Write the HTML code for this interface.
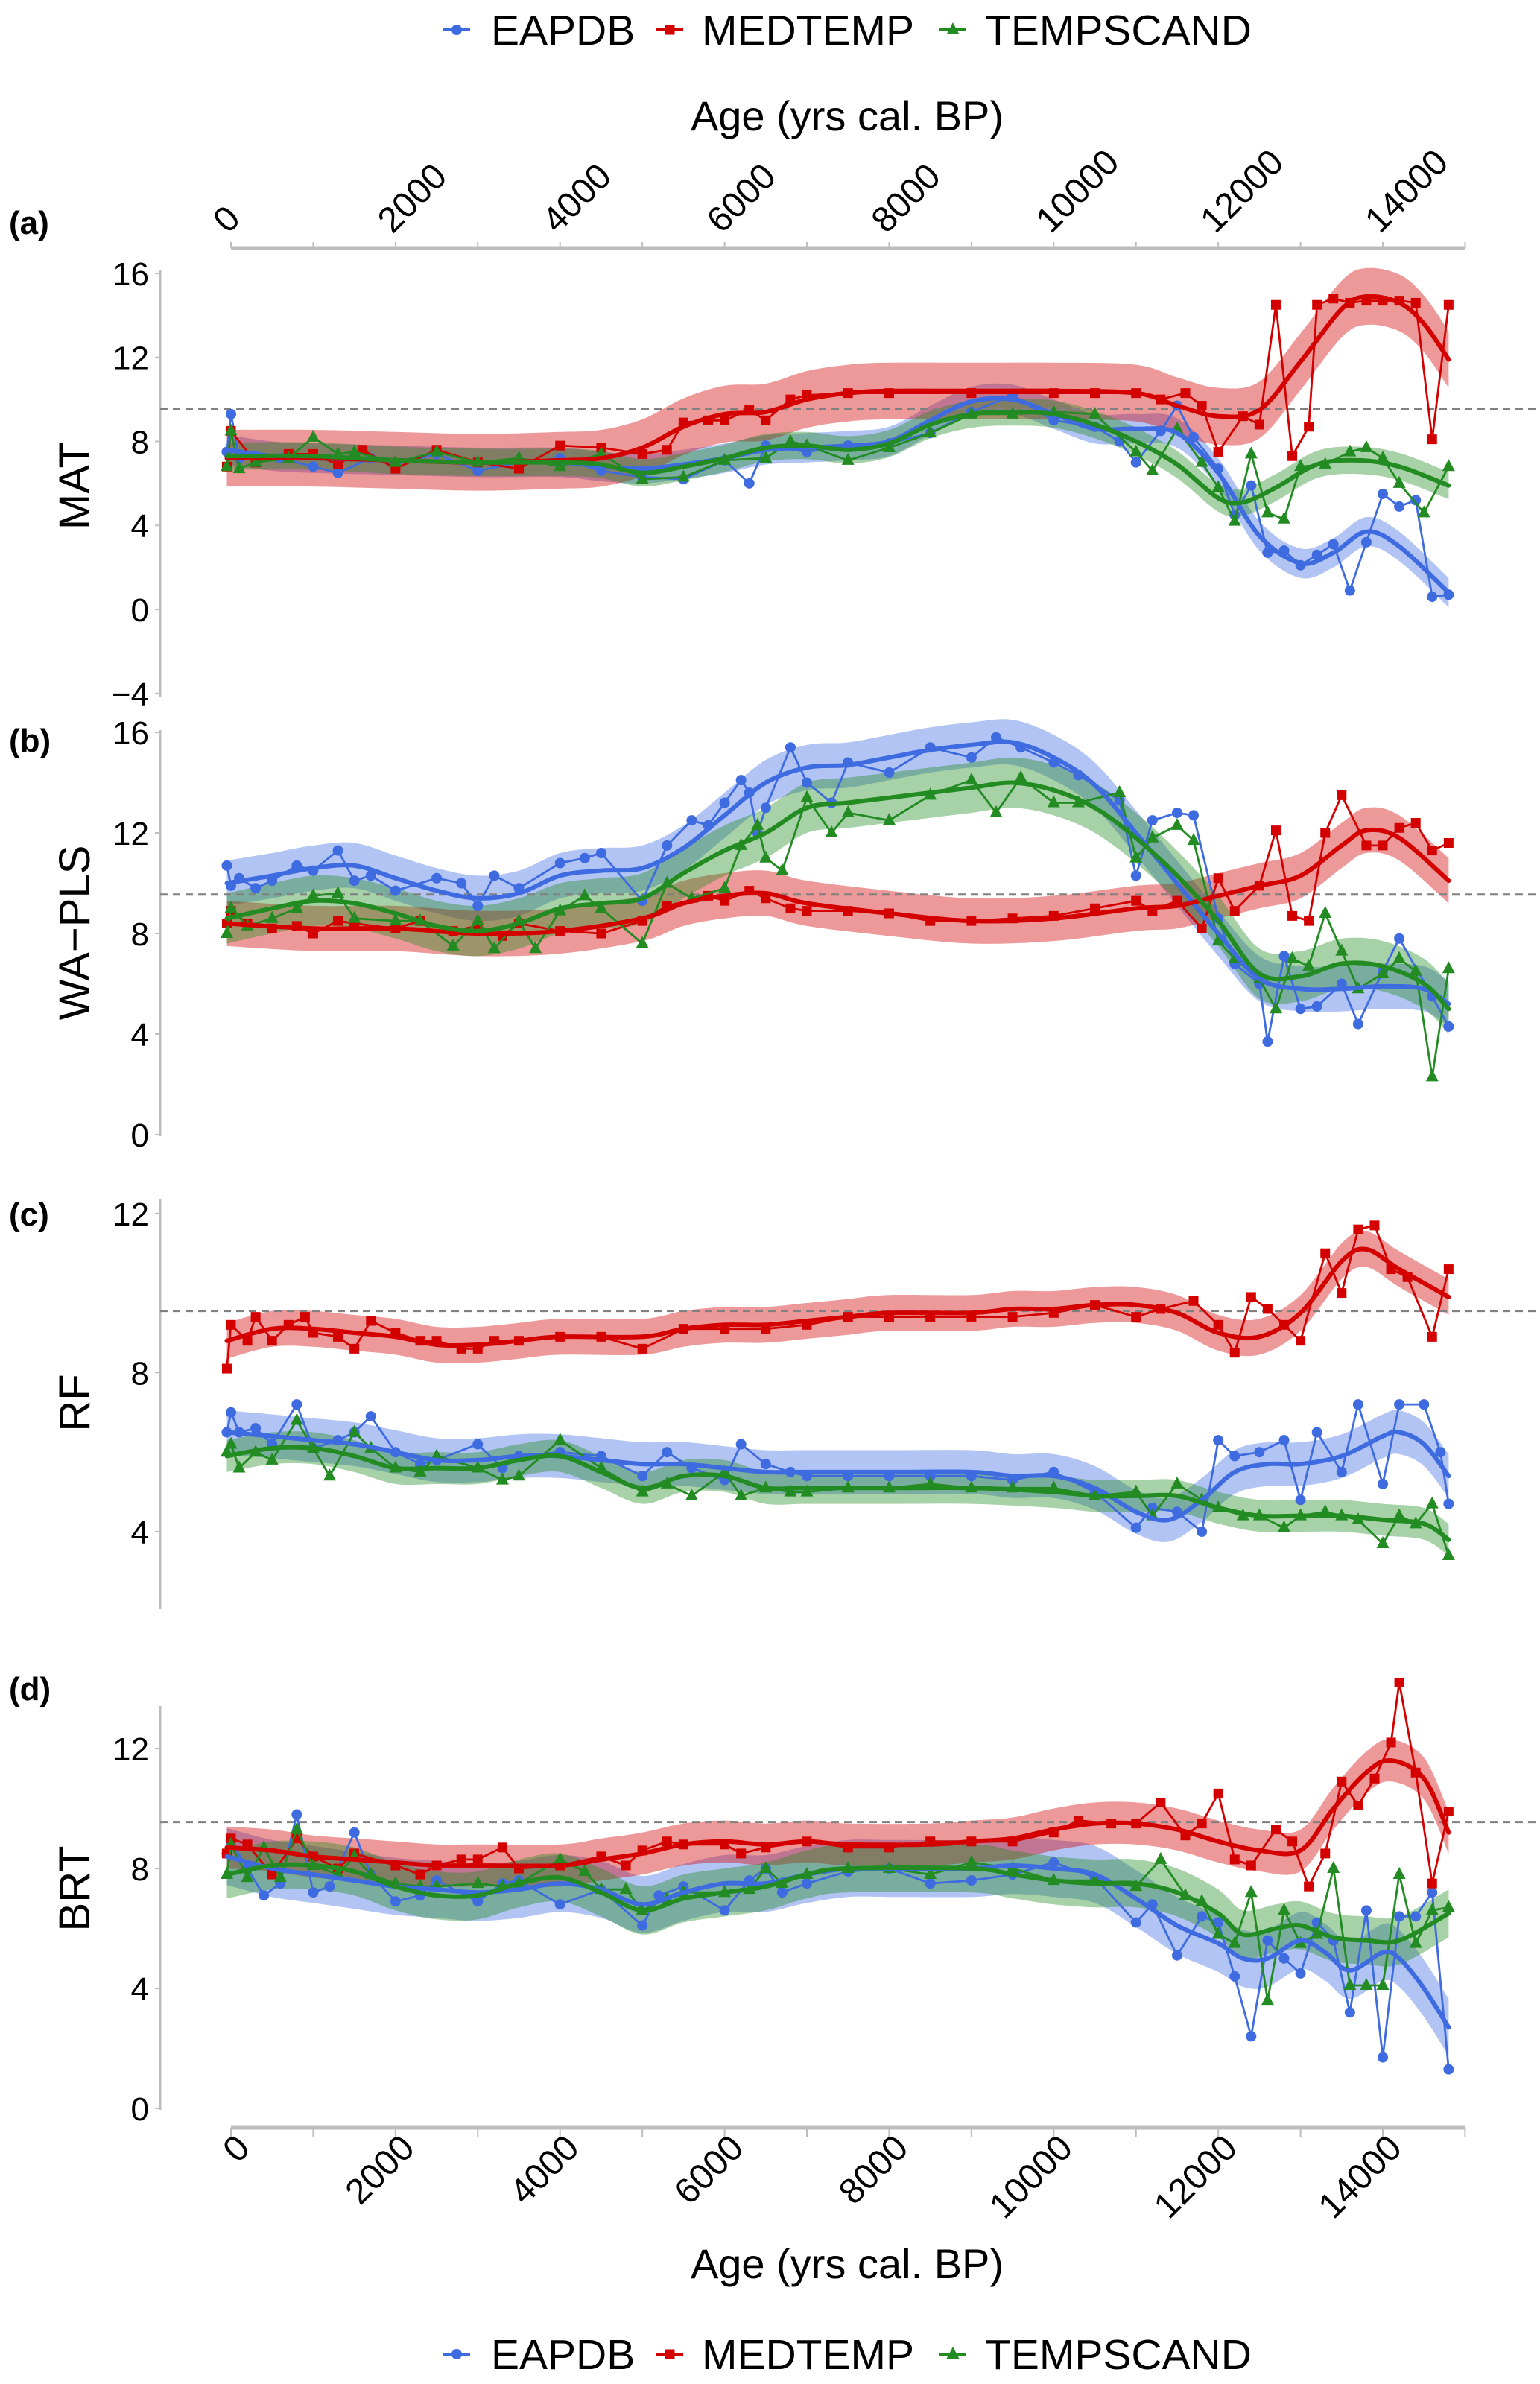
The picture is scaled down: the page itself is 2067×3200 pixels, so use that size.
<!DOCTYPE html>
<html><head><meta charset="utf-8">
<style>
html,body{margin:0;padding:0;background:#fff;}
svg{display:block;font-family:"Liberation Sans",Arial,sans-serif;}
</style></head>
<body>
<svg id="chart" width="2067" height="3200" viewBox="0 0 2067 3200" xmlns="http://www.w3.org/2000/svg">
<g id="static"></g>
</svg>
<script>
// ---------- DATA ----------
const seriesNames = ["EAPDB","MEDTEMP","TEMPSCAND"];
const xTicks = [0,2000,4000,6000,8000,10000,12000,14000];

// Panel a: MAT
const aEapPts=[[-50,7.5],[0,9.3],[100,7.2],[300,7.3],[600,7.2],[1000,6.8],[1300,6.5],[1700,7.2],[2000,6.9],[2500,7.4],[3000,6.6],[3500,7.0],[4000,7.2],[4500,6.6],[5000,6.3],[5500,6.2],[6000,7.1],[6300,6.0],[6500,7.8],[7000,7.5],[7500,7.8],[8000,7.9],[8500,8.4],[9000,9.4],[9500,10.2],[10000,9.0],[10500,8.7],[10800,8.0],[11000,7.0],[11300,8.5],[11500,9.7],[11700,8.2],[12000,6.7],[12200,4.5],[12400,5.9],[12600,2.7],[12800,2.8],[13000,2.1],[13200,2.6],[13400,3.1],[13600,0.9],[13800,3.2],[14000,5.5],[14200,4.9],[14400,5.2],[14600,0.6],[14800,0.7]];
const aEapFit=[[-50,7.6],[500,7.3],[1000,7.2],[2000,7.1],[3000,7.0],[4000,7.0],[4500,6.8],[5000,6.7],[5500,6.9],[6000,7.2],[6500,7.6],[7000,7.7],[7500,7.8],[8000,8.0],[8500,9.0],[9000,9.9],[9500,10.0],[10000,9.3],[10500,8.6],[11000,8.6],[11500,8.4],[12000,6.5],[12500,3.5],[13000,2.2],[13400,2.7],[13800,3.7],[14200,3.0],[14800,0.8]];
const aEapBand=0.7;
const aMedPts=[[-50,6.8],[0,8.5],[300,7.0],[700,7.4],[1000,7.4],[1300,6.9],[1600,7.6],[2000,6.7],[2500,7.6],[3000,7.0],[3500,6.7],[4000,7.8],[4500,7.7],[5000,7.4],[5300,7.6],[5500,8.9],[5800,9.0],[6000,9.0],[6300,9.5],[6500,9.0],[6800,10.0],[7000,10.2],[7500,10.3],[8000,10.3],[9000,10.3],[10000,10.3],[10500,10.3],[11000,10.3],[11300,10.0],[11600,10.3],[11800,9.7],[12000,7.5],[12300,9.2],[12500,8.8],[12700,14.5],[12900,7.3],[13100,8.7],[13200,14.5],[13400,14.8],[13600,14.6],[13800,14.7],[14000,14.7],[14200,14.7],[14400,14.6],[14600,8.1],[14800,14.5]];
const aMedFit=[[-50,7.2],[1000,7.2],[2000,7.1],[3000,7.0],[4000,7.1],[4500,7.2],[5000,7.7],[5500,8.7],[6000,9.3],[6500,9.4],[7000,10.0],[7500,10.3],[8000,10.4],[9000,10.4],[10000,10.4],[11000,10.3],[11500,9.7],[12000,9.2],[12500,9.5],[13000,11.8],[13500,14.3],[13800,14.9],[14200,14.6],[14500,13.6],[14800,11.9]];
const aMedBand=1.35;
const aTscPts=[[-50,6.8],[0,8.5],[100,6.7],[300,7.0],[700,7.2],[1000,8.2],[1300,7.4],[1500,7.5],[2000,7.0],[2500,7.5],[3000,7.0],[3500,7.2],[4000,6.8],[4500,7.4],[5000,6.2],[5500,6.3],[6000,7.1],[6500,7.2],[6800,8.0],[7000,7.8],[7500,7.1],[8000,7.7],[8500,8.4],[9000,9.3],[9500,9.3],[10000,9.4],[10500,9.3],[11000,7.5],[11200,6.6],[11500,8.6],[11800,7.0],[12000,5.8],[12200,4.2],[12400,7.4],[12600,4.6],[12800,4.3],[13000,6.8],[13300,6.9],[13600,7.5],[13800,7.7],[14000,7.2],[14200,6.0],[14500,4.6],[14800,6.8]];
const aTscFit=[[-50,7.3],[1000,7.3],[2000,7.1],[3000,7.0],[4000,7.0],[4500,6.9],[5000,6.5],[5500,6.8],[6000,7.2],[6500,7.7],[7000,7.8],[7500,7.6],[8000,7.9],[8500,8.8],[9000,9.3],[9500,9.4],[10000,9.3],[10500,8.8],[11000,8.0],[11500,6.9],[12000,5.3],[12300,5.1],[12700,5.8],[13200,6.9],[13700,7.1],[14200,6.8],[14800,5.9]];
const aTscBand=0.65;

// Panel b: WA-PLS
const bEapPts=[[-50,10.7],[0,9.9],[100,10.2],[300,9.8],[500,10.1],[800,10.7],[1000,10.5],[1300,11.3],[1500,10.1],[1700,10.3],[2000,9.7],[2500,10.2],[2800,10.0],[3000,9.1],[3200,10.3],[3500,9.8],[4000,10.8],[4300,11.0],[4500,11.2],[5000,9.3],[5300,11.5],[5600,12.5],[5800,12.3],[6000,13.2],[6200,14.1],[6300,13.6],[6400,12.0],[6500,13.0],[6800,15.4],[7000,14.0],[7300,13.2],[7500,14.8],[8000,14.4],[8500,15.4],[9000,15.0],[9300,15.8],[9600,15.4],[10000,14.8],[10300,14.3],[10800,13.3],[11000,10.3],[11200,12.5],[11500,12.8],[11700,12.7],[12000,8.6],[12200,6.8],[12500,6.0],[12600,3.7],[12800,7.1],[13000,5.0],[13200,5.1],[13500,6.0],[13700,4.4],[14000,6.5],[14200,7.8],[14600,5.5],[14800,4.3]];
const bEapFit=[[-50,10.0],[500,10.3],[1000,10.6],[1500,10.7],[2000,10.2],[2500,9.7],[3000,9.4],[3500,9.6],[4000,10.3],[4500,10.5],[5000,10.6],[5500,11.4],[6000,12.7],[6500,14.0],[7000,14.6],[7500,14.7],[8000,15.0],[8500,15.3],[9000,15.5],[9500,15.6],[10000,15.0],[10500,13.9],[11000,12.0],[11500,10.0],[12000,8.0],[12500,6.2],[13000,5.8],[13500,5.8],[14000,5.9],[14500,5.8],[14800,5.2]];
const bEapBand=0.9;
const bMedPts=[[-50,8.4],[0,8.9],[200,8.4],[500,8.2],[800,8.3],[1000,8.0],[1300,8.5],[1500,8.4],[2000,8.2],[2300,8.5],[2700,8.1],[3000,8.3],[3300,7.9],[3500,8.4],[4000,8.1],[4500,8.0],[5000,8.5],[5300,9.1],[5800,9.5],[6000,9.3],[6300,9.7],[6500,9.4],[6800,9.0],[7000,8.9],[7500,8.9],[8000,8.8],[8500,8.5],[9000,8.5],[9500,8.6],[10000,8.7],[10500,9.0],[11000,9.3],[11200,8.9],[11500,9.3],[11800,8.2],[12000,10.2],[12200,8.9],[12500,9.9],[12700,12.1],[12900,8.7],[13100,8.5],[13300,12.0],[13500,13.5],[13800,11.5],[14000,11.5],[14200,12.2],[14400,12.4],[14600,11.3],[14800,11.6]];
const bMedFit=[[-50,8.4],[1000,8.2],[2000,8.2],[3000,8.0],[4000,8.1],[5000,8.6],[5500,9.2],[6000,9.5],[6500,9.6],[7000,9.2],[8000,8.8],[9000,8.5],[10000,8.6],[11000,9.0],[11500,9.1],[12000,9.5],[12500,9.9],[13000,10.3],[13500,11.5],[13800,12.1],[14200,11.8],[14800,10.1]];
const bMedBand=0.9;
const bTscPts=[[-50,8.0],[0,9.0],[200,8.3],[500,8.6],[800,9.0],[1000,9.5],[1300,9.6],[1500,8.6],[2000,8.5],[2300,8.5],[2700,7.5],[3000,8.5],[3200,7.4],[3500,8.5],[3700,7.4],[4000,8.9],[4300,9.5],[4500,9.0],[5000,7.6],[5300,10.0],[5600,9.4],[6000,9.8],[6200,11.5],[6400,12.3],[6500,11.0],[6700,10.5],[7000,13.4],[7300,12.0],[7500,12.8],[8000,12.5],[8500,13.5],[9000,14.1],[9300,12.8],[9600,14.2],[10000,13.2],[10300,13.2],[10800,13.6],[11000,11.0],[11200,11.8],[11500,12.3],[11700,11.7],[12000,7.7],[12200,7.0],[12500,6.2],[12700,5.0],[12900,7.0],[13100,6.7],[13300,8.8],[13500,7.3],[13700,5.8],[14000,6.4],[14200,7.0],[14400,6.5],[14600,2.3],[14800,6.6]];
const bTscFit=[[-50,8.6],[500,9.0],[1000,9.3],[1500,9.2],[2000,8.8],[2500,8.3],[3000,8.1],[3500,8.4],[4000,9.0],[4500,9.2],[5000,9.4],[5500,10.4],[6000,11.3],[6500,12.0],[7000,13.0],[7500,13.2],[8000,13.4],[8500,13.6],[9000,13.8],[9500,14.0],[10000,13.7],[10500,13.0],[11000,11.8],[11500,10.3],[12000,8.5],[12500,6.4],[13000,6.3],[13500,6.8],[14000,6.7],[14500,6.0],[14800,5.0]];
const bTscBand=1.0;

// Panel c: RF
const cEapPts=[[-50,6.5],[0,7.0],[100,6.5],[300,6.6],[500,6.2],[800,7.2],[1000,6.1],[1300,6.3],[1500,6.5],[1700,6.9],[2000,6.0],[2300,5.7],[2500,5.8],[3000,6.2],[3300,5.6],[3500,5.9],[4000,6.0],[4500,5.9],[5000,5.4],[5300,6.0],[5600,5.6],[6000,5.3],[6200,6.2],[6500,5.7],[6800,5.5],[7000,5.4],[7500,5.4],[8000,5.4],[8500,5.4],[9000,5.4],[9500,5.3],[10000,5.5],[10500,5.0],[11000,4.1],[11200,4.6],[11500,4.5],[11800,4.0],[12000,6.3],[12200,5.9],[12500,6.0],[12800,6.3],[13000,4.8],[13200,6.5],[13500,5.5],[13700,7.2],[14000,5.2],[14200,7.2],[14500,7.2],[14700,6.0],[14800,4.7]];
const cEapFit=[[-50,6.5],[500,6.4],[1000,6.3],[1500,6.2],[2000,6.0],[2500,5.8],[3000,5.8],[3500,5.9],[4000,5.9],[4500,5.8],[5000,5.7],[5500,5.7],[6000,5.6],[6500,5.5],[7000,5.5],[8000,5.5],[9000,5.5],[9500,5.4],[10000,5.4],[10500,5.1],[11000,4.5],[11400,4.3],[11800,4.8],[12200,5.5],[12600,5.7],[13000,5.7],[13500,5.9],[14000,6.4],[14200,6.5],[14500,6.2],[14800,5.4]];
const cEapBand=0.55;
const cMedPts=[[-50,8.1],[0,9.2],[200,8.8],[300,9.4],[500,8.8],[700,9.2],[900,9.4],[1000,9.0],[1300,8.9],[1500,8.6],[1700,9.3],[2000,9.0],[2300,8.8],[2500,8.8],[2800,8.6],[3000,8.6],[3200,8.8],[3500,8.8],[4000,8.9],[4500,8.9],[5000,8.6],[5500,9.1],[6000,9.1],[6500,9.1],[7000,9.2],[7500,9.4],[8000,9.4],[8500,9.4],[9000,9.4],[9500,9.4],[10000,9.5],[10500,9.7],[11000,9.4],[11300,9.6],[11700,9.8],[12000,9.2],[12200,8.5],[12400,9.9],[12600,9.6],[12800,9.2],[13000,8.8],[13300,11.0],[13500,10.0],[13700,11.6],[13900,11.7],[14100,10.6],[14300,10.4],[14600,8.9],[14800,10.6]];
const cMedFit=[[-50,8.8],[500,9.1],[1000,9.1],[1500,9.0],[2000,8.9],[2500,8.7],[3000,8.7],[3500,8.8],[4000,8.9],[5000,8.9],[5500,9.1],[6000,9.2],[6500,9.2],[7000,9.3],[7500,9.4],[8000,9.5],[9000,9.5],[9500,9.6],[10000,9.6],[10500,9.7],[11000,9.7],[11500,9.5],[12000,9.0],[12500,8.9],[13000,9.5],[13500,10.8],[13800,11.1],[14200,10.6],[14800,9.9]];
const cMedBand=0.45;
const cTscPts=[[-50,6.0],[0,6.2],[100,5.6],[300,6.0],[500,5.8],[800,6.8],[1000,6.1],[1200,5.4],[1500,6.5],[1700,6.1],[2000,5.6],[2300,5.5],[2500,5.9],[3000,5.6],[3300,5.3],[3500,5.4],[4000,6.3],[4500,5.6],[5000,5.0],[5300,5.2],[5600,4.9],[6000,5.5],[6200,4.9],[6500,5.1],[6800,5.0],[7000,5.0],[7500,5.1],[8000,5.1],[8500,5.2],[9000,5.1],[9500,5.1],[10000,5.1],[10500,4.9],[11000,5.0],[11200,4.4],[11500,5.2],[11800,4.8],[12000,4.6],[12300,4.4],[12500,4.4],[12800,4.1],[13000,4.4],[13300,4.5],[13500,4.4],[13700,4.3],[14000,3.7],[14200,4.4],[14400,4.2],[14600,4.7],[14800,3.4]];
const cTscFit=[[-50,5.9],[500,6.1],[1000,6.1],[1500,5.9],[2000,5.6],[2500,5.6],[3000,5.6],[3500,5.8],[4000,5.9],[4500,5.5],[5000,5.1],[5500,5.4],[6000,5.4],[6500,5.1],[7000,5.1],[8000,5.1],[9000,5.1],[10000,5.0],[10500,4.9],[11000,4.9],[11500,4.9],[12000,4.6],[12500,4.4],[13000,4.4],[13500,4.4],[14000,4.3],[14500,4.2],[14800,3.8]];
const cTscBand=0.4;

// Panel d: BRT
const dEapPts=[[-50,8.5],[0,8.9],[200,8.0],[400,7.1],[600,7.5],[800,9.8],[1000,7.2],[1200,7.4],[1500,9.2],[1700,7.8],[2000,6.9],[2300,7.1],[2500,7.6],[3000,6.9],[3300,7.5],[3500,7.6],[4000,6.8],[4500,7.3],[5000,6.1],[5200,7.1],[5500,7.4],[6000,6.6],[6300,7.6],[6500,8.0],[6700,7.2],[7000,7.5],[7500,7.9],[8000,8.0],[8500,7.5],[9000,7.6],[9500,7.8],[10000,8.2],[10500,7.7],[11000,6.2],[11200,6.8],[11500,5.1],[11800,6.4],[12000,6.2],[12200,4.4],[12400,2.4],[12600,5.6],[12800,5.0],[13000,4.5],[13200,6.2],[13400,5.6],[13600,3.2],[13800,6.6],[14000,1.7],[14200,6.4],[14400,6.4],[14600,7.2],[14800,1.3]];
const dEapFit=[[-50,8.4],[500,8.0],[1000,7.8],[1500,7.6],[2000,7.4],[2500,7.3],[3000,7.2],[3500,7.3],[4000,7.5],[4500,7.3],[5000,6.8],[5500,7.2],[6000,7.5],[6500,7.5],[7000,7.8],[7500,8.0],[8000,8.0],[9000,8.0],[9500,8.1],[10000,8.0],[10500,7.8],[11000,7.0],[11500,6.1],[12000,5.5],[12300,5.0],[12600,5.0],[13000,5.6],[13300,5.2],[13600,4.6],[14000,5.2],[14200,5.0],[14500,4.0],[14800,2.7]];
const dEapBand=0.95;
const dMedPts=[[-50,8.5],[0,9.0],[200,8.8],[500,7.8],[800,9.0],[1000,8.4],[1300,8.0],[1500,8.5],[2000,8.1],[2300,7.8],[2500,8.1],[2800,8.3],[3000,8.3],[3300,8.7],[3500,8.0],[4000,8.1],[4500,8.4],[4800,8.1],[5000,8.6],[5300,8.9],[5500,8.8],[6000,8.8],[6200,8.5],[6500,8.7],[7000,8.9],[7500,8.7],[8000,8.7],[8500,8.9],[9000,8.9],[9500,8.9],[10000,9.2],[10300,9.6],[10700,9.5],[11000,9.5],[11300,10.2],[11600,9.1],[11800,9.5],[12000,10.5],[12200,8.3],[12400,8.1],[12700,9.3],[12900,8.9],[13100,7.4],[13300,8.5],[13500,10.9],[13700,10.1],[13900,11.0],[14100,12.2],[14200,14.2],[14400,11.2],[14600,7.5],[14800,9.9]];
const dMedFit=[[-50,8.7],[500,8.6],[1000,8.4],[1500,8.3],[2000,8.2],[2500,8.1],[3000,8.1],[4000,8.1],[4500,8.3],[5000,8.5],[5500,8.8],[6000,8.9],[6500,8.8],[7000,8.9],[7500,8.8],[8500,8.8],[9000,8.9],[9500,9.0],[10000,9.3],[10500,9.5],[11000,9.5],[11500,9.3],[12000,8.9],[12500,8.6],[13000,8.6],[13400,10.0],[13800,11.2],[14100,11.6],[14500,11.0],[14800,9.2]];
const dMedBand=0.7;
const dTscPts=[[-50,7.8],[0,8.8],[200,7.7],[400,8.7],[600,7.7],[800,9.3],[1000,8.1],[1300,7.8],[1500,8.4],[1700,7.8],[2000,7.5],[2300,7.4],[2500,7.4],[3000,7.5],[3300,7.4],[3500,7.5],[4000,8.3],[4300,7.9],[4500,7.3],[4800,7.3],[5000,6.6],[5300,7.0],[5500,7.2],[6000,7.2],[6300,7.3],[6500,8.0],[6700,7.5],[7000,7.8],[7500,8.0],[8000,8.0],[8500,7.8],[9000,8.2],[9500,8.0],[10000,7.6],[10500,7.6],[11000,7.4],[11300,8.3],[11600,7.1],[11800,6.9],[12000,5.8],[12200,5.5],[12400,7.2],[12600,3.6],[12800,6.6],[13000,5.5],[13200,5.8],[13400,8.0],[13600,4.1],[13800,4.1],[14000,4.1],[14200,7.8],[14400,5.5],[14600,6.6],[14800,6.7]];
const dTscFit=[[-50,7.8],[500,8.1],[1000,8.1],[1500,7.9],[2000,7.4],[2500,7.1],[3000,7.1],[3500,7.5],[4000,7.7],[4500,7.2],[5000,6.6],[5500,7.0],[6000,7.2],[6500,7.4],[7000,7.8],[7500,8.0],[9000,8.0],[9500,7.8],[10000,7.6],[10500,7.5],[11000,7.5],[11500,7.2],[12000,6.5],[12300,5.8],[12700,6.0],[13000,6.1],[13400,5.7],[13800,5.6],[14200,5.6],[14800,6.5]];
const dTscBand=0.8;

const refValue = 9.55;
const aTicks=[16,12,8,4,0,-4], bTicks=[16,12,8,4,0], cTicks=[12,8,4], dTicks=[12,8,4,0];

// ---------- RENDER ----------
const NS="http://www.w3.org/2000/svg";
const svg=document.getElementById('chart');
const colors={EAPDB:"#3e6be0",MEDTEMP:"#d40000",TEMPSCAND:"#228b22"};
const X0=310, XK=0.11043;
function xs(a){return X0+a*XK;}
function mk(tag,attrs,parent){const e=document.createElementNS(NS,tag);for(const k in attrs)e.setAttribute(k,attrs[k]);(parent||svg).appendChild(e);return e;}
function cr(pts){
  let d="M"+pts[0][0].toFixed(1)+","+pts[0][1].toFixed(1);
  for(let i=0;i<pts.length-1;i++){
    const p0=pts[Math.max(0,i-1)],p1=pts[i],p2=pts[i+1],p3=pts[Math.min(pts.length-1,i+2)];
    const c1=[p1[0]+(p2[0]-p0[0])/6,p1[1]+(p2[1]-p0[1])/6];
    const c2=[p2[0]-(p3[0]-p1[0])/6,p2[1]-(p3[1]-p1[1])/6];
    d+="C"+c1[0].toFixed(1)+","+c1[1].toFixed(1)+" "+c2[0].toFixed(1)+","+c2[1].toFixed(1)+" "+p2[0].toFixed(1)+","+p2[1].toFixed(1);
  }
  return d;
}
function crBody(pts){return cr(pts).replace(/^M/,"L");}

const panels=[
 {id:"a",label:"(a)",title:"MAT",y0:818,vk:28.19,v0:0,ticks:aTicks,axTop:362,axBot:935,labelY:298,titleY:652,
  series:[["EAPDB",aEapPts,aEapFit,aEapBand],["MEDTEMP",aMedPts,aMedFit,aMedBand],["TEMPSCAND",aTscPts,aTscFit,aTscBand]]},
 {id:"b",label:"(b)",title:"WA\u2212PLS",y0:1523,vk:33.75,v0:0,ticks:bTicks,axTop:980,axBot:1525,labelY:993,titleY:1252,
  series:[["EAPDB",bEapPts,bEapFit,bEapBand],["MEDTEMP",bMedPts,bMedFit,bMedBand],["TEMPSCAND",bTscPts,bTscFit,bTscBand]]},
 {id:"c",label:"(c)",title:"RF",y0:2056,vk:53.4,v0:4,ticks:cTicks,axTop:1609,axBot:2160,labelY:1629,titleY:1883,
  series:[["EAPDB",cEapPts,cEapFit,cEapBand],["MEDTEMP",cMedPts,cMedFit,cMedBand],["TEMPSCAND",cTscPts,cTscFit,cTscBand]]},
 {id:"d",label:"(d)",title:"BRT",y0:2830,vk:40.25,v0:0,ticks:dTicks,axTop:2290,axBot:2832,labelY:2266,titleY:2535,
  series:[["EAPDB",dEapPts,dEapFit,dEapBand],["MEDTEMP",dMedPts,dMedFit,dMedBand],["TEMPSCAND",dTscPts,dTscFit,dTscBand]]}
];

function marker(name,x,y,g){
  const c=colors[name];
  let e;
  if(name==="EAPDB") e=mk("circle",{cx:x,cy:y,r:7,fill:c},g);
  else if(name==="MEDTEMP") e=mk("rect",{x:x-6.5,y:y-6.5,width:13,height:13,fill:c},g);
  else e=mk("polygon",{points:`${x},${y-10} ${x-8.5},${y+6} ${x+8.5},${y+6}`,fill:c},g);
  return e;
}

panels.forEach(p=>{
  const ys=v=>p.y0-(v-p.v0)*p.vk;
  const g=mk("g",{});
  
  
  const ax=mk("line",{x1:215,y1:p.axTop,x2:215,y2:p.axBot,stroke:"#bdbdbd","stroke-width":3},g);
  
  
  p.ticks.forEach(t=>{
    mk("line",{x1:208,y1:ys(t),x2:215,y2:ys(t),stroke:"#bdbdbd","stroke-width":2},g);
    const tl=mk("text",{x:200,y:ys(t)+16,"text-anchor":"end","font-size":44,fill:"#000"},g);
    tl.textContent=t<0?"\u2212"+Math.abs(t):String(t);
    
    
  });
  const yt=mk("text",{x:0,y:0,"text-anchor":"middle","font-size":58,fill:"#000",transform:`translate(120,${p.titleY}) rotate(-90)`},g);
  yt.textContent=p.title;
  
  
  const pl=mk("text",{x:12,y:p.labelY+16,"font-size":44,"font-weight":"bold",fill:"#000"},g);
  pl.textContent=p.label;
  
  
  p.series.forEach(([name,pts,fit,band])=>{
    const up=fit.map(q=>[xs(q[0]),ys(q[1]+band)]);
    const lo=fit.map(q=>[xs(q[0]),ys(q[1]-band)]).reverse();
    const b=mk("path",{d:cr(up)+crBody(lo)+"Z",fill:colors[name],"fill-opacity":0.4,stroke:"none"},g);
    
    
  });
  const rl=mk("line",{x1:215,y1:ys(refValue),x2:2067,y2:ys(refValue),stroke:"#808080","stroke-width":3,"stroke-dasharray":"10 7"},g);
  
  
  p.series.forEach(([name,pts])=>{
    const pp=pts.map(q=>[xs(q[0]),ys(q[1])]);
    const l=mk("polyline",{points:pp.map(q=>q[0].toFixed(1)+","+q[1].toFixed(1)).join(" "),fill:"none",stroke:colors[name],"stroke-width":2.8},g);
    
    
    pp.forEach(q=>{
      const m=marker(name,q[0],q[1],g);
      
      
    });
  });
  p.series.forEach(([name,pts,fit])=>{
    const s=mk("path",{d:cr(fit.map(q=>[xs(q[0]),ys(q[1])])),fill:"none",stroke:colors[name],"stroke-width":6,"stroke-linecap":"round"},g);
    
    
  });
});

function xAxis(y,top){
  const g=mk("g",{});
  
  
  mk("line",{x1:xs(0),y1:y,x2:xs(15000),y2:y,stroke:"#bdbdbd","stroke-width":5},g);
  for(let a=0;a<=15000;a+=1000){
    mk("line",{x1:xs(a),y1:y,x2:xs(a),y2:top?y-8:y+12,stroke:"#bdbdbd","stroke-width":2},g);
  }
  xTicks.forEach(t=>{
    let tl;
    if(top) tl=mk("text",{x:0,y:0,"font-size":48,fill:"#000",transform:`translate(${xs(t)-4},${y-18}) rotate(-45)`},g);
    else tl=mk("text",{x:0,y:0,"font-size":48,"text-anchor":"end",fill:"#000",transform:`translate(${xs(t)+28},${y+30}) rotate(-45)`},g);
    tl.textContent=String(t);
    
    
  });
}
xAxis(333,true);
xAxis(2856,false);

function title(y){
  const t=mk("text",{x:1137,y:y,"text-anchor":"middle","font-size":56,fill:"#000"});
  t.textContent="Age (yrs cal. BP)";
  
  
}
title(175);
title(3058);

function legend(y){
  const g=mk("g",{});
  
  
  const xsM=[613,899,1279], xsT=[659,942,1322];
  seriesNames.forEach((n,i)=>{
    mk("line",{x1:xsM[i]-18,y1:y,x2:xsM[i]+18,y2:y,stroke:colors[n],"stroke-width":4},g);
    marker(n,xsM[i],y,g);
    const t=mk("text",{x:xsT[i],y:y+20,"font-size":57,fill:"#000"},g);
    t.textContent=n;
    
    
  });
}
legend(40);
legend(3160);
</script>
</body></html>
